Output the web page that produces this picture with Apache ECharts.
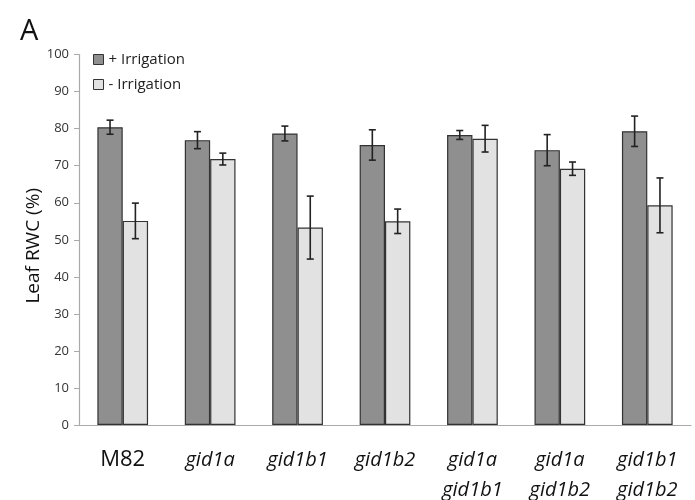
<!DOCTYPE html>
<html><head><meta charset="utf-8">
<script src="https://cdn.jsdelivr.net/npm/echarts@6/dist/echarts.min.js"></script>
<style>html,body{margin:0;padding:0;background:#fff}#c{width:695px;height:500px}</style>
</head><body><div id="c"></div>
<script>
const categories = ['M82', 'gid1a', 'gid1b1', 'gid1b2', 'gid1a\ngid1b1', 'gid1a\ngid1b2', 'gid1b1\ngid1b2'];
const plusMean = [80.4, 76.9, 78.7, 75.6, 78.3, 74.2, 79.3];
const plusErr = [1.9, 2.3, 2.0, 4.1, 1.2, 4.2, 4.1];
const minusMean = [55.1, 71.8, 53.3, 55.0, 77.3, 69.2, 59.3];
const minusErr = [4.8, 1.6, 8.5, 3.3, 3.6, 1.8, 7.4];
const yTicks = { min: 0, max: 100, interval: 10 };

const BAR_RATIO = 0.29;
function errSeries(mean, err, side) {
  return {
    type: 'custom',
    z: 10,
    data: mean.map((m, i) => [i, m - err[i], m + err[i]]),
    renderItem: function (params, api) {
      const i = api.value(0);
      const lo = api.coord([i, api.value(1)]);
      const hi = api.coord([i, api.value(2)]);
      const w = api.size([1, 0])[0] * BAR_RATIO;
      const x = lo[0] + side * w / 2;
      const cap = 3.5;
      const st = { stroke: '#222', lineWidth: 1.6 };
      return { type: 'group', children: [
        { type: 'line', shape: { x1: x, y1: lo[1], x2: x, y2: hi[1] }, style: st },
        { type: 'line', shape: { x1: x - cap, y1: lo[1], x2: x + cap, y2: lo[1] }, style: st },
        { type: 'line', shape: { x1: x - cap, y1: hi[1], x2: x + cap, y2: hi[1] }, style: st }
      ]};
    }
  };
}

const chart = echarts.init(document.getElementById('c'));
const font = '"Open Sans", "DejaVu Sans", sans-serif';
chart.setOption({
  animation: false,
  textStyle: { fontFamily: font },
  graphic: [{ type: 'text', left: 20, top: 17, style: { text: 'A', fontSize: 29, fill: '#111', fontFamily: font } }],
  legend: {
    orient: 'vertical', left: 88, top: 47, itemWidth: 10, itemHeight: 10, itemGap: 10,
    textStyle: { fontSize: 15, color: '#222', padding: [0, 0, 0, 0] },
    data: [
      { name: '+ Irrigation', icon: 'rect', itemStyle: { color: '#8f8f8f', borderColor: '#333', borderWidth: 1 } },
      { name: '- Irrigation', icon: 'rect', itemStyle: { color: '#e2e2e2', borderColor: '#333', borderWidth: 1 } }
    ]
  },
  grid: { left: 79, right: 4, top: 54.6, bottom: 73.3, containLabel: false },
  xAxis: {
    type: 'category', data: categories,
    axisLine: { lineStyle: { color: '#aaa', width: 1.2 } },
    axisTick: { length: 6, lineStyle: { color: '#aaa' } },
    axisLabel: {
      margin: 20, interval: 0,
      formatter: v => v.split('\n').map(s => s === 'M82' ? '{n|' + s + '}' : '{i|' + s + '}').join('\n'),
      rich: {
        n: { fontSize: 22, color: '#111', lineHeight: 30, fontFamily: font },
        i: { fontSize: 20, fontStyle: 'italic', color: '#111', lineHeight: 30, fontFamily: font }
      }
    }
  },
  yAxis: {
    type: 'value', min: yTicks.min, max: yTicks.max, interval: yTicks.interval,
    name: 'Leaf RWC (%)', nameLocation: 'middle', nameGap: 36, nameMoveOverlap: false,
    nameTextStyle: { fontSize: 19, color: '#111', padding: [0, 12, 0, 0] },
    axisLine: { show: true, lineStyle: { color: '#aaa', width: 1.2 } },
    axisTick: { show: true, length: 5, lineStyle: { color: '#aaa' } },
    axisLabel: { fontSize: 13, color: '#333', margin: 10 },
    splitLine: { show: false }
  },
  series: [
    { name: '+ Irrigation', type: 'bar', data: plusMean, barWidth: '29%', barGap: '0%',
      itemStyle: { color: '#8f8f8f', borderColor: '#333', borderWidth: 1.2 } },
    { name: '- Irrigation', type: 'bar', data: minusMean, barWidth: '29%', barGap: '0%',
      itemStyle: { color: '#e2e2e2', borderColor: '#333', borderWidth: 1.2 } },
    errSeries(plusMean, plusErr, -1),
    errSeries(minusMean, minusErr, 1)
  ]
});
</script></body></html>
